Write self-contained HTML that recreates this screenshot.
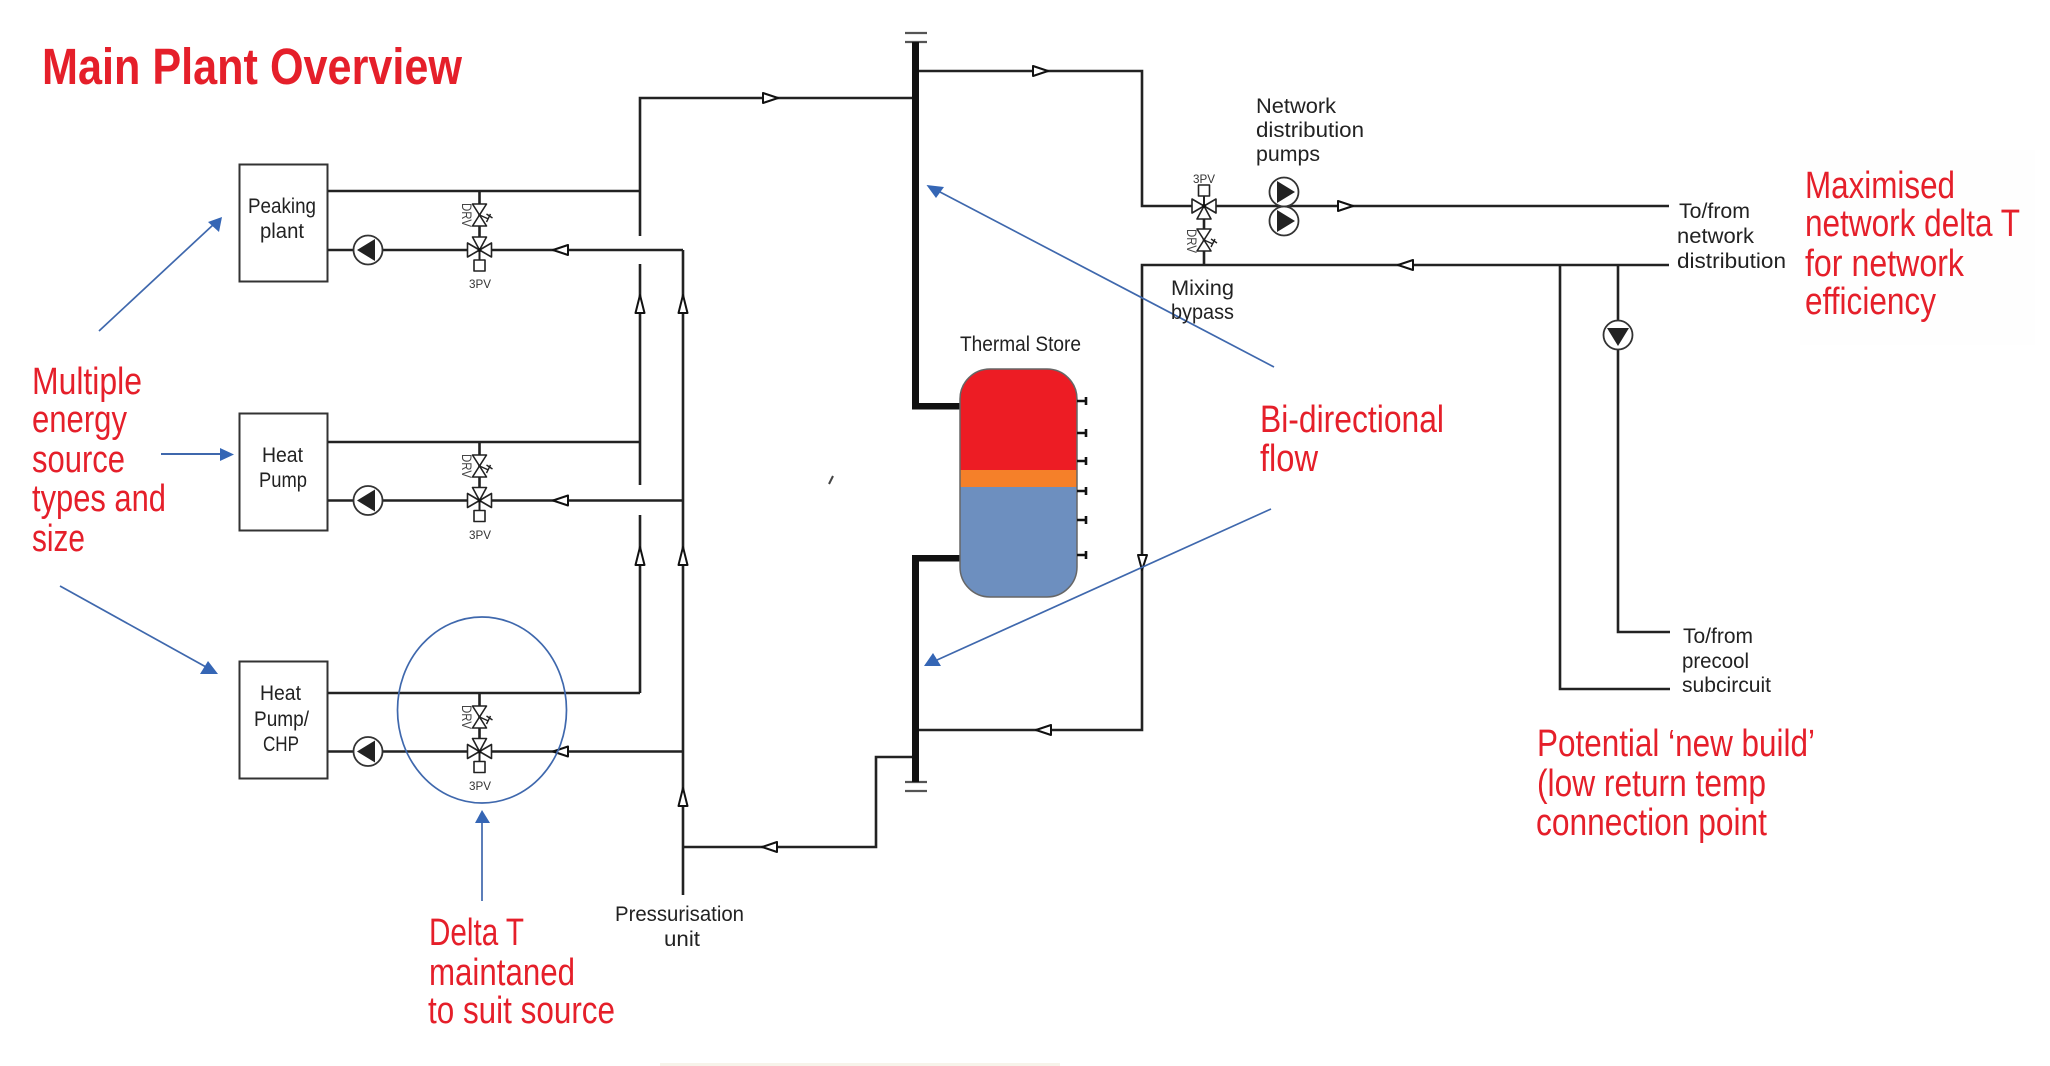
<!DOCTYPE html>
<html lang="en">
<head>
<meta charset="utf-8">
<title>Main Plant Overview</title>
<style>
html,body{margin:0;padding:0;background:#fff;width:2050px;height:1066px;overflow:hidden}
svg{display:block}
text{font-family:"Liberation Sans",sans-serif}
.r{fill:#e51f2a;font-size:38px}
.k{fill:#222;font-size:21.5px}
.s{fill:#333;font-size:12px}
.d{fill:#444;font-size:14px}
.p{fill:none;stroke:#222;stroke-width:2.6}
.b{fill:none;stroke:#3f68ad;stroke-width:1.7}
.h{fill:#3566b5;stroke:none}
.a{fill:#fff;stroke:#111;stroke-width:2;stroke-linejoin:round}
.v{fill:#fff;stroke:#222;stroke-width:1.6;stroke-linejoin:round}
.t{fill:none;stroke:#111;stroke-width:2.6}
</style>
</head>
<body>
<svg width="2050" height="1066" viewBox="0 0 2050 1066" xmlns="http://www.w3.org/2000/svg">
<defs>
  <path id="al" class="a" d="M-8 0 L7 -5 L7 5 Z"/>
  <path id="ar" class="a" d="M8 0 L-7 -5 L-7 5 Z"/>
  <path id="au" class="a" d="M0 -11 L-4.5 7 L4.5 7 Z"/>
  <g id="pump">
    <circle cx="0" cy="0" r="14.5" fill="#fff" stroke="#333" stroke-width="1.8"/>
    <path d="M-11 0 L7 -11 L7 11 Z" fill="#222"/>
  </g>
  <g id="valve">
    <path class="v" d="M0 0 L-12 -7 L-12 7 Z"/>
    <path class="v" d="M0 0 L12 -7 L12 7 Z"/>
    <path class="v" d="M0 0 L-7 -13 L7 -13 Z"/>
    <path d="M0 0 V10" stroke="#222" stroke-width="2"/>
    <circle cx="0" cy="0" r="2" fill="#111"/>
    <rect class="v" x="-5.5" y="10" width="11" height="11"/>
  </g>
  <g id="drv">
    <path class="v" d="M0 0 L-7 -11 L7 -11 Z"/>
    <path class="v" d="M0 0 L-7 11 L7 11 Z"/>
    <path d="M0 0 L9 4 M7 7 L11 -1 M7 -1 L13 3" fill="none" stroke="#222" stroke-width="1.4"/>
  </g>
</defs>

<rect width="2050" height="1066" fill="#fff"/>
<rect x="1800" y="150" width="235" height="195" fill="#fefefe"/>
<rect x="660" y="1063" width="400" height="3" fill="#f7f3ea"/>

<!-- boxes -->
<rect x="239.5" y="164.5" width="88" height="117" fill="#fff" stroke="#333" stroke-width="2"/>
<rect x="239.5" y="413.5" width="88" height="117" fill="#fff" stroke="#333" stroke-width="2"/>
<rect x="239.5" y="661.5" width="88" height="117" fill="#fff" stroke="#333" stroke-width="2"/>

<!-- left-hand pipework -->
<path class="p" d="M328 191 H640 M328 442 H640 M328 693 H640"/>
<path class="p" d="M328 250 H683 M328 500.5 H683 M328 751.5 H683"/>
<path class="p" d="M912 98 H640 V236 M640 264 V485 M640 515 V693"/>
<path class="p" d="M683 250 V895"/>
<path class="p" d="M683 847 H876 V757 H912"/>
<path class="p" d="M479.5 191 V250 M479.5 442 V500 M479.5 693 V751"/>

<use href="#au" x="640" y="306"/>
<use href="#au" x="683" y="306"/>
<use href="#au" x="640" y="558"/>
<use href="#au" x="683" y="558"/>
<use href="#au" x="683" y="799"/>
<use href="#al" x="561" y="250"/>
<use href="#al" x="561" y="500.5"/>
<use href="#al" x="561" y="751.5"/>
<use href="#ar" x="770" y="98"/>
<use href="#al" x="770" y="847"/>

<use href="#pump" x="368" y="250"/>
<use href="#pump" x="368" y="500.5"/>
<use href="#pump" x="368" y="751.5"/>

<use href="#valve" x="479.5" y="250"/>
<use href="#valve" x="479.5" y="500.5"/>
<use href="#valve" x="479.5" y="751.5"/>
<use href="#drv" x="479.5" y="215"/>
<use href="#drv" x="479.5" y="466"/>
<use href="#drv" x="479.5" y="717"/>

<text class="d" x="466" y="215" text-anchor="middle" transform="rotate(90 466 215) translate(0 4)" textLength="24" lengthAdjust="spacingAndGlyphs">DRV</text>
<text class="d" x="466" y="466" text-anchor="middle" transform="rotate(90 466 466) translate(0 4)" textLength="24" lengthAdjust="spacingAndGlyphs">DRV</text>
<text class="d" x="466" y="717" text-anchor="middle" transform="rotate(90 466 717) translate(0 4)" textLength="24" lengthAdjust="spacingAndGlyphs">DRV</text>
<text class="s" x="469" y="288" textLength="22" lengthAdjust="spacingAndGlyphs">3PV</text>
<text class="s" x="469" y="539" textLength="22" lengthAdjust="spacingAndGlyphs">3PV</text>
<text class="s" x="469" y="790" textLength="22" lengthAdjust="spacingAndGlyphs">3PV</text>

<!-- header bars -->
<path d="M905 33 H927 M905 42 H927 M905 782 H927 M905 791 H927" stroke="#555" stroke-width="2.2" fill="none"/>
<rect x="912" y="42" width="7" height="367" fill="#111"/>
<rect x="912" y="403" width="50" height="6.5" fill="#111"/>
<rect x="912" y="555" width="50" height="6.5" fill="#111"/>
<rect x="912" y="555" width="7" height="227" fill="#111"/>

<!-- thermal store -->
<defs><clipPath id="tank"><rect x="960" y="369" width="117" height="228" rx="30" ry="30"/></clipPath></defs>
<g clip-path="url(#tank)">
  <rect x="960" y="369" width="117" height="101" fill="#ed1c24"/>
  <rect x="960" y="470" width="117" height="17" fill="#f58029"/>
  <rect x="960" y="487" width="117" height="110" fill="#6d8fbf"/>
</g>
<rect x="960" y="369" width="117" height="228" rx="30" ry="30" fill="none" stroke="#666" stroke-width="1.5"/>
<path class="t" d="M1077 401 H1086 M1086 397 V405 M1077 433 H1086 M1086 429 V437 M1077 461 H1086 M1086 457 V465 M1077 491 H1086 M1086 487 V495 M1077 520 H1086 M1086 516 V524 M1077 555 H1086 M1086 551 V559"/>

<!-- right-hand pipework -->
<path class="p" d="M919 71 H1142 V206 H1669"/>
<path class="p" d="M919 730 H1142 V265 H1669"/>
<path class="p" d="M1204 206 V265"/>
<path class="p" d="M1560 265 V689 H1670"/>
<path class="p" d="M1618 265 V632 H1670"/>
<use href="#ar" x="1040" y="71"/>
<use href="#ar" x="1345" y="206"/>
<use href="#al" x="1406" y="265"/>
<use href="#al" x="1044" y="730"/>
<path class="a" d="M1142 570 L1138 555 L1147 555 Z"/>

<!-- network valve -->
<g transform="translate(1204 206) scale(1 -1)"><use href="#valve"/></g>
<use href="#drv" x="1204" y="240"/>
<text class="s" x="1193" y="183" textLength="22" lengthAdjust="spacingAndGlyphs">3PV</text>
<text class="d" x="1191" y="241" text-anchor="middle" transform="rotate(90 1191 241) translate(0 4)" textLength="24" lengthAdjust="spacingAndGlyphs">DRV</text>

<g transform="translate(1284 192) rotate(180)"><use href="#pump"/></g>
<g transform="translate(1284 221) rotate(180)"><use href="#pump"/></g>
<g transform="translate(1618 335) rotate(-90)"><use href="#pump"/></g>

<!-- blue annotations -->
<ellipse class="b" cx="482" cy="710" rx="84.5" ry="93"/>
<path class="b" d="M99 331 L214 224"/>
<path class="h" d="M222 217 L208 222 L219 232 Z"/>
<path class="b" style="stroke-width:2" d="M161 454 H221"/>
<path class="h" d="M234 454.5 L220 448 L220 461 Z"/>
<path class="b" d="M60 586 L206 667"/>
<path class="h" d="M208 661 L200 674 L218 674 Z"/>
<path class="b" d="M482 901 V822"/>
<path class="h" d="M482 810 L475 823 L490 823 Z"/>
<path class="b" d="M1274 367 L940 192"/>
<path class="h" d="M926.5 185 L944 187 L936 198 Z"/>
<path class="b" d="M1271 509 L937 660"/>
<path class="h" d="M933 653 L924 666 L941 666 Z"/>
<path d="M829 484 L833 476" stroke="#444" stroke-width="2" fill="none"/>

<!-- black labels -->
<text class="k" x="248" y="213" textLength="68" lengthAdjust="spacingAndGlyphs">Peaking</text>
<text class="k" x="260" y="238" textLength="44" lengthAdjust="spacingAndGlyphs">plant</text>
<text class="k" x="262" y="462" textLength="41" lengthAdjust="spacingAndGlyphs">Heat</text>
<text class="k" x="259" y="487" textLength="48" lengthAdjust="spacingAndGlyphs">Pump</text>
<text class="k" x="260" y="700" textLength="41" lengthAdjust="spacingAndGlyphs">Heat</text>
<text class="k" x="254" y="726" textLength="55" lengthAdjust="spacingAndGlyphs">Pump/</text>
<text class="k" x="263" y="751" textLength="36" lengthAdjust="spacingAndGlyphs">CHP</text>
<text class="k" x="615" y="921" textLength="129" lengthAdjust="spacingAndGlyphs">Pressurisation</text>
<text class="k" x="664" y="946" textLength="36" lengthAdjust="spacingAndGlyphs">unit</text>
<text class="k" x="960" y="351" textLength="121" lengthAdjust="spacingAndGlyphs">Thermal Store</text>
<text class="k" x="1256" y="113" textLength="80" lengthAdjust="spacingAndGlyphs">Network</text>
<text class="k" x="1256" y="137" textLength="108" lengthAdjust="spacingAndGlyphs">distribution</text>
<text class="k" x="1256" y="161" textLength="64" lengthAdjust="spacingAndGlyphs">pumps</text>
<text class="k" x="1171" y="295" textLength="63" lengthAdjust="spacingAndGlyphs">Mixing</text>
<text class="k" x="1171" y="319" textLength="63" lengthAdjust="spacingAndGlyphs">bypass</text>
<text class="k" x="1679" y="218" textLength="71" lengthAdjust="spacingAndGlyphs">To/from</text>
<text class="k" x="1677" y="243" textLength="77" lengthAdjust="spacingAndGlyphs">network</text>
<text class="k" x="1677" y="268" textLength="109" lengthAdjust="spacingAndGlyphs">distribution</text>
<text class="k" x="1683" y="643" textLength="70" lengthAdjust="spacingAndGlyphs">To/from</text>
<text class="k" x="1682" y="668" textLength="67" lengthAdjust="spacingAndGlyphs">precool</text>
<text class="k" x="1682" y="692" textLength="89" lengthAdjust="spacingAndGlyphs">subcircuit</text>

<!-- red labels -->
<text class="r" x="42" y="84" font-weight="bold" style="font-size:51px" textLength="420" lengthAdjust="spacingAndGlyphs">Main Plant Overview</text>
<text class="r" x="32" y="394" textLength="110" lengthAdjust="spacingAndGlyphs">Multiple</text>
<text class="r" x="32" y="432" textLength="95" lengthAdjust="spacingAndGlyphs">energy</text>
<text class="r" x="32" y="472" textLength="93" lengthAdjust="spacingAndGlyphs">source</text>
<text class="r" x="32" y="511" textLength="134" lengthAdjust="spacingAndGlyphs">types and</text>
<text class="r" x="32" y="551" textLength="53" lengthAdjust="spacingAndGlyphs">size</text>
<text class="r" x="429" y="945" textLength="95" lengthAdjust="spacingAndGlyphs">Delta T</text>
<text class="r" x="429" y="985" textLength="146" lengthAdjust="spacingAndGlyphs">maintaned</text>
<text class="r" x="428" y="1023" textLength="187" lengthAdjust="spacingAndGlyphs">to suit source</text>
<text class="r" x="1260" y="432" textLength="184" lengthAdjust="spacingAndGlyphs">Bi-directional</text>
<text class="r" x="1260" y="471" textLength="58" lengthAdjust="spacingAndGlyphs">flow</text>
<text class="r" x="1805" y="198" textLength="150" lengthAdjust="spacingAndGlyphs">Maximised</text>
<text class="r" x="1805" y="236" textLength="215" lengthAdjust="spacingAndGlyphs">network delta T</text>
<text class="r" x="1805" y="276" textLength="159" lengthAdjust="spacingAndGlyphs">for network</text>
<text class="r" x="1805" y="314" textLength="131" lengthAdjust="spacingAndGlyphs">efficiency</text>
<text class="r" x="1537" y="756" textLength="278" lengthAdjust="spacingAndGlyphs">Potential ‘new build’</text>
<text class="r" x="1537" y="796" textLength="229" lengthAdjust="spacingAndGlyphs">(low return temp</text>
<text class="r" x="1536" y="835" textLength="231" lengthAdjust="spacingAndGlyphs">connection point</text>
</svg>
</body>
</html>
